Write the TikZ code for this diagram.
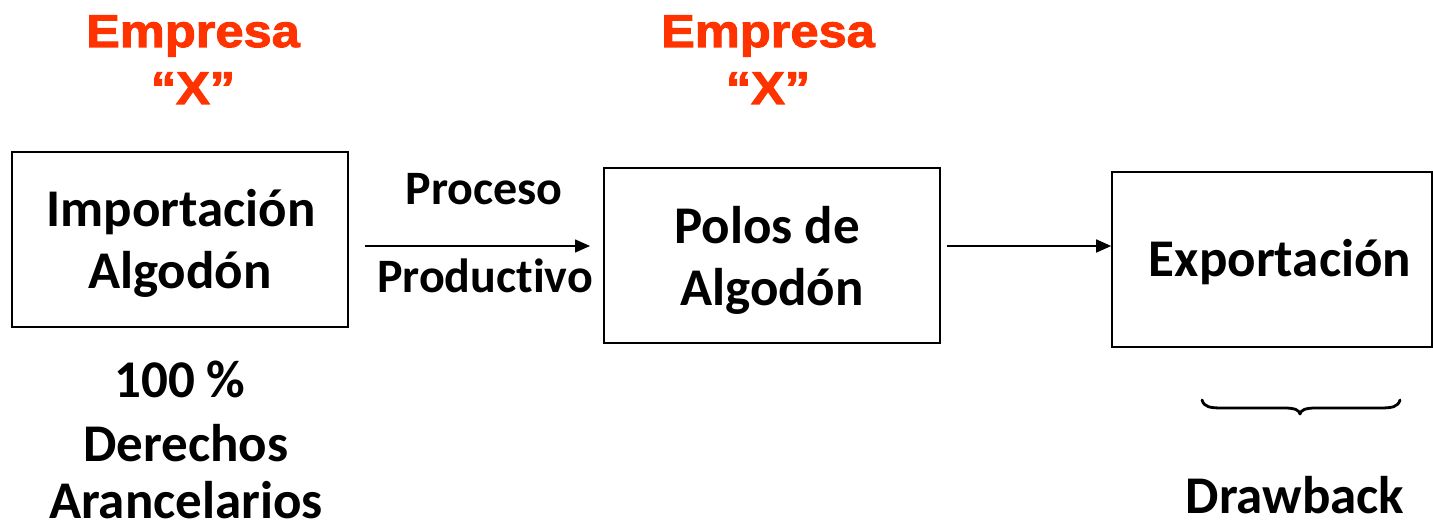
\documentclass[tikz,border=0pt]{standalone}
\usepackage{fontspec}
\setmainfont[Ligatures=NoCommon]{Carlito}
\newfontfamily\redfont[FakeStretch=1.1,FakeBold=2.2]{Liberation Sans}
\usetikzlibrary{arrows.meta}
\definecolor{empred}{HTML}{FF3300}
\tikzset{
  box/.style={draw=black,line width=1.6pt,inner sep=0pt},
  txt/.style={font=\fontsize{53}{62}\selectfont\bfseries,align=center,inner sep=0pt},
  smalltxt/.style={font=\fontsize{48}{56}\selectfont\bfseries,align=center,inner sep=0pt},
  redtxt/.style={font=\redfont\fontsize{46}{56}\selectfont\bfseries,text=empred,align=center,inner sep=0pt},
  arr/.style={draw=black,line width=1.6pt,-{Triangle[length=15pt,width=13pt]}},
  bracestyle/.style={draw=black,line width=2.8pt,line cap=round,line join=round}
}
\begin{document}
\begin{tikzpicture}[x=1pt,y=-1pt]
\useasboundingbox (0,0) rectangle (1433,529);
\node[box,minimum width=336pt,minimum height=175pt] (b1) at (180,239.5) {};
\node[box,minimum width=336pt,minimum height=175pt] (b2) at (772,255.5) {};
\node[box,minimum width=320pt,minimum height=175pt] (b3) at (1272,259.5) {};
\node[txt,anchor=base] (t1a) at (181,227) {Importación};
\node[txt,anchor=base] (t1b) at (180,289) {Algodón};
\node[txt,anchor=base] (t2a) at (767,244) {Polos de};
\node[txt,anchor=base] (t2b) at (772,306) {Algodón};
\node[txt,anchor=base] (t3) at (1280,277) {Exportación};
\node[txt,anchor=base] (p1) at (180,398) {100 \%};
\node[txt,anchor=base] (p2) at (186,461) {Derechos};
\node[txt,anchor=base,text depth=0pt] (p3) at (186,518) {Arancelarios};
\node[smalltxt,anchor=base] (pr1) at (484,205) {Proceso};
\node[smalltxt,anchor=base] (pr2) at (485,293) {Productivo};
\node[txt,anchor=base] (dr) at (1295,513) {Drawback};
\node[redtxt,anchor=base] (e1) at (193,47) {Empresa};
\node[redtxt,anchor=base] (x1) at (193,104) {“X”};
\node[redtxt,anchor=base] (e2) at (768,47) {Empresa};
\node[redtxt,anchor=base] (x2) at (768,104) {“X”};
\coordinate (a1s) at (365,246);
\coordinate (a1e) at (590,246);
\draw[arr] (a1s) -- (a1e);
\draw[arr] (b2.east |- 0,246) ++(6,0) coordinate (a2s) -- (b3.west |- 0,246);
\draw[bracestyle] (1202,400) .. controls (1204,407) and (1210,408) .. (1222,408) -- (1284,408)
  .. controls (1295,408) and (1299,410) .. (1300,414)
  .. controls (1301,410) and (1305,408) .. (1316,408) -- (1380,408)
  .. controls (1392,408) and (1398,407) .. (1400,400);
\end{tikzpicture}
\end{document}
